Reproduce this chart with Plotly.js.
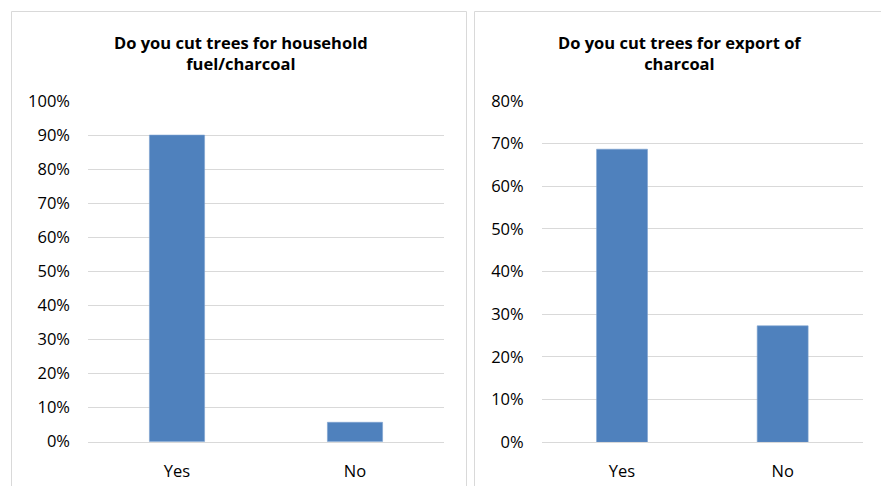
<!DOCTYPE html>
<html>
<head>
<meta charset="utf-8">
<script src="https://cdn.plot.ly/plotly-3.0.1.min.js"></script>
<style>html,body{margin:0;padding:0;background:#fff;}#chart{width:881px;height:486px;}</style>
</head>
<body>
<div id="chart"></div>
<script>
var categories = ["Yes", "No"];
var householdFuel = [0.90, 0.057];
var exportCharcoal = [0.687, 0.273];
var title1 = "Do you cut trees for household<br>fuel/charcoal";
var title2 = "Do you cut trees for export of<br>charcoal";

var W = 881, H = 486;
function px(x){ return x / W; }
function py(y){ return 1 - y / H; }

var barColor = "#4F81BD";
var gridColor = "#D9D9D9";
var fontFam = "Open Sans, sans-serif";

var traces = [
  {type: "bar", x: categories, y: householdFuel, xaxis: "x", yaxis: "y",
   marker: {color: barColor, line: {color: "#7EA3D0", width: 0.6}}, width: 0.31, hoverinfo: "none"},
  {type: "bar", x: categories, y: exportCharcoal, xaxis: "x2", yaxis: "y2",
   marker: {color: barColor, line: {color: "#7EA3D0", width: 0.6}}, width: 0.317, hoverinfo: "none"}
];

var axisFont = {family: fontFam, size: 16.5, color: "#000"};
var titleFont = {family: fontFam, size: 16.5, color: "#000", weight: "bold"};

var layout = {
  width: W, height: H,
  margin: {l: 0, r: 0, t: 0, b: 0},
  paper_bgcolor: "#fff", plot_bgcolor: "#fff",
  showlegend: false,
  font: {family: fontFam},
  xaxis: {domain: [px(88), px(444)], anchor: "y", showline: true, linecolor: gridColor, linewidth: 1,
          showgrid: false, ticks: "", tickfont: axisFont, ticklabelstandoff: 14, fixedrange: true},
  yaxis: {domain: [py(441.7), py(101)], anchor: "x", range: [0, 1], dtick: 0.1, tickformat: ".0%",
          showgrid: true, gridcolor: gridColor, gridwidth: 1, zeroline: false, showline: false,
          ticks: "", tickfont: axisFont, ticklabelstandoff: 17, fixedrange: true},
  xaxis2: {domain: [px(541.7), px(863)], anchor: "y2", showline: true, linecolor: gridColor, linewidth: 1,
          showgrid: false, ticks: "", tickfont: axisFont, ticklabelstandoff: 14, fixedrange: true},
  yaxis2: {domain: [py(442.3), py(101)], anchor: "x2", range: [0, 0.8], dtick: 0.1, tickformat: ".0%",
          showgrid: true, gridcolor: gridColor, gridwidth: 1, zeroline: false, showline: false,
          ticks: "", tickfont: axisFont, ticklabelstandoff: 17, fixedrange: true},
  annotations: [
    {text: title1, xref: "paper", yref: "paper", x: px(241), y: py(53), xanchor: "center", yanchor: "middle",
     showarrow: false, align: "center", font: titleFont},
    {text: title2, xref: "paper", yref: "paper", x: px(680), y: py(53), xanchor: "center", yanchor: "middle",
     showarrow: false, align: "center", font: titleFont}
  ],
  shapes: [
    {type: "rect", xref: "paper", yref: "paper", x0: px(11.5), x1: px(466.5), y0: py(490), y1: py(11.5),
     line: {color: gridColor, width: 1}, fillcolor: "rgba(0,0,0,0)", layer: "below"},
    {type: "rect", xref: "paper", yref: "paper", x0: px(474.5), x1: px(890), y0: py(490), y1: py(11.5),
     line: {color: gridColor, width: 1}, fillcolor: "rgba(0,0,0,0)", layer: "below"}
  ]
};

Plotly.newPlot("chart", traces, layout, {displayModeBar: false, staticPlot: true});
</script>
</body>
</html>
